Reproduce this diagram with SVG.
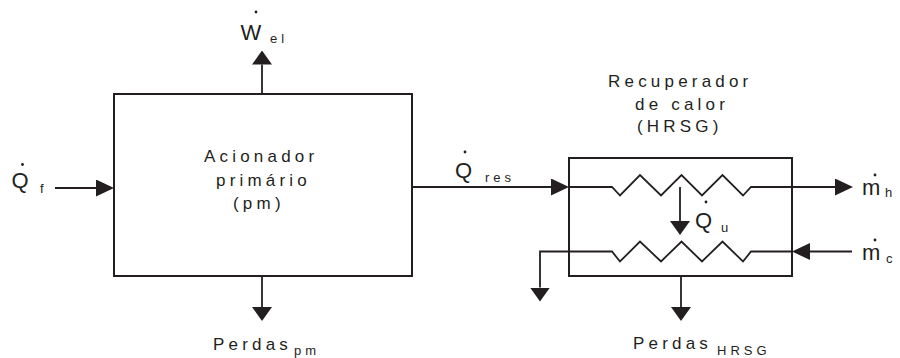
<svg xmlns="http://www.w3.org/2000/svg" width="900" height="358" viewBox="0 0 900 358">
<style>
.box{fill:none;stroke:#231f20;stroke-width:2}
.ln{fill:none;stroke:#231f20;stroke-width:1.8;stroke-linejoin:miter}
.lbl{font-family:"Liberation Sans",Arial,sans-serif;font-size:17px;letter-spacing:4.2px;fill:#231f20}
.sym{font-family:"Liberation Sans",Arial,sans-serif;font-size:22px;fill:#231f20}
.sub{font-family:"Liberation Sans",Arial,sans-serif;font-size:13px;letter-spacing:4px;fill:#231f20}
.dot{fill:#231f20}
</style>
<defs>
<marker id="ah" markerUnits="userSpaceOnUse" markerWidth="18" markerHeight="17" viewBox="0 0 18 17" refX="0" refY="8.5" orient="auto">
<path d="M0,0 L18,8.5 L0,17 Z" fill="#231f20"/>
</marker>
<marker id="av" markerUnits="userSpaceOnUse" markerWidth="14" markerHeight="20" viewBox="0 0 14 20" refX="0" refY="10" orient="auto">
<path d="M0,0 L14,10 L0,20 Z" fill="#231f20"/>
</marker>
</defs>

<g id="acionador">
<rect class="box" x="114" y="94" width="298" height="182"/>
<text class="lbl" x="204" y="162">Acionador</text>
<text class="lbl" x="216" y="185.7">primário</text>
<text class="lbl" x="233" y="208.5">(pm)</text>
</g>

<g id="hrsg">
<rect class="box" x="569" y="158" width="223" height="118"/>
<text class="lbl" x="608" y="87">Recuperador</text>
<text class="lbl" x="635" y="110">de calor</text>
<text class="lbl" x="637" y="132">(HRSG)</text>
</g>

<g id="w_el">
<circle class="dot" cx="256" cy="12" r="1.4"/>
<text class="sym" x="240.5" y="40">W</text>
<text class="sub" x="270" y="43">el</text>
</g>

<g id="q_f">
<circle class="dot" cx="22.5" cy="164.5" r="1.4"/>
<text class="sym" x="11.5" y="187.5">Q</text>
<text class="sub" x="40" y="193">f</text>
</g>

<g id="q_res">
<circle class="dot" cx="465" cy="152" r="1.4"/>
<text class="sym" x="455" y="178">Q</text>
<text class="sub" x="485" y="182">res</text>
</g>

<g id="q_u">
<circle class="dot" cx="706" cy="202" r="1.4"/>
<text class="sym" x="695" y="228">Q</text>
<text class="sub" x="721" y="232">u</text>
</g>

<g id="m_h">
<circle class="dot" cx="875" cy="175" r="1.4"/>
<text class="sym" x="862" y="195">m</text>
<text class="sub" x="885" y="197">h</text>
</g>

<g id="m_c">
<circle class="dot" cx="875" cy="240" r="1.4"/>
<text class="sym" x="862" y="260">m</text>
<text class="sub" x="886" y="263">c</text>
</g>

<g id="perdas_pm">
<text class="lbl" x="213" y="350">Perdas</text>
<text class="sub" x="294" y="355">pm</text>
</g>

<g id="perdas_hrsg">
<text class="lbl" x="633" y="348.5">Perdas</text>
<text class="sub" x="717" y="355">HRSG</text>
</g>

<g id="connectors">
<line class="ln" x1="262" y1="94" x2="262" y2="64.5" marker-end="url(#av)"/>
<line class="ln" x1="262" y1="276" x2="262" y2="307" marker-end="url(#av)"/>
<line class="ln" x1="55" y1="188" x2="96" y2="188" marker-end="url(#ah)"/>
<line class="ln" x1="412" y1="187" x2="551" y2="187" marker-end="url(#ah)"/>
<polyline class="ln" points="569,187 612,187 620,195.5 640,175 661,195.5 681.5,175 702,195.5 722.5,175 743,195.5 751,187 835,187" marker-end="url(#ah)"/>
<line class="ln" x1="680" y1="187" x2="680" y2="221" marker-end="url(#av)"/>
<line class="ln" x1="852" y1="251.5" x2="810" y2="251.5" marker-end="url(#ah)"/>
<polyline class="ln" points="792,251.5 751,251.5 743,261.5 722.5,241.5 702,261.5 681.5,241.5 661,261.5 640,241.5 620,261.5 612,251.5 540,251.5 540,287.5" marker-end="url(#av)"/>
<line class="ln" x1="681" y1="276" x2="681" y2="307" marker-end="url(#av)"/>
</g>
</svg>
